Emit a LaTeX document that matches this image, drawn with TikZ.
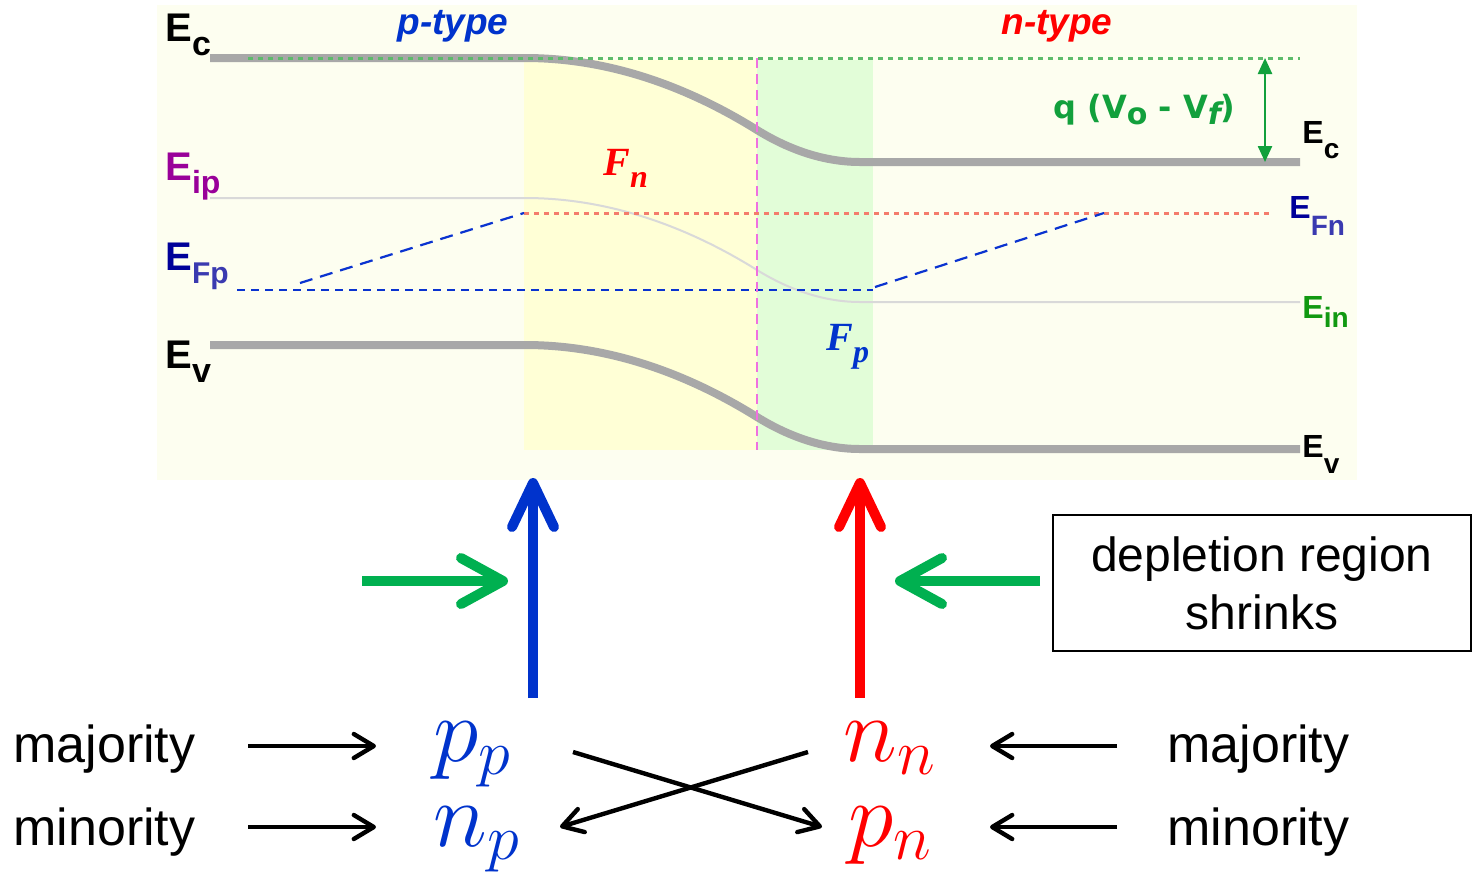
\documentclass[tikz,border=0pt]{standalone}
\usepackage{fix-cm}
\usepackage{fontspec}
\setmainfont{Liberation Sans}
\newfontfamily\serifbi{Liberation Serif}
\newfontfamily\qfont{DejaVu Sans}
\usetikzlibrary{arrows.meta}
\definecolor{panelbg}{HTML}{FDFEF0}
\definecolor{depy}{HTML}{FFFFD6}
\definecolor{depg}{HTML}{E2FDD8}
\definecolor{bandgray}{HTML}{A8A8A8}
\definecolor{eigray}{HTML}{D9D9D9}
\definecolor{dotgreen}{HTML}{5DBB6B}
\definecolor{dotred}{HTML}{F47C6C}
\definecolor{dblue}{HTML}{0A33D0}
\definecolor{pinkd}{HTML}{F070E0}
\definecolor{qgreen}{HTML}{12A03C}
\definecolor{bgreen}{HTML}{00B050}
\definecolor{ablue}{HTML}{0033CC}
\definecolor{ared}{HTML}{FF0000}
\definecolor{eipc}{HTML}{990099}
\definecolor{efc}{HTML}{000099}
\definecolor{efsub}{HTML}{3A3AB0}
\definecolor{einc}{HTML}{119911}
% #1 E size, #2 sub size, #3 lowering, #4 E colour, #5 sub colour, #6 sub text
\newcommand\ELab[6]{{\bfseries\fontsize{#1}{#1}\selectfont\textcolor{#4}{E}\raisebox{-#3}{\fontsize{#2}{#2}\selectfont\textcolor{#5}{#6}}}}
\newcommand\bandline{(210,58) -- (525,58) .. controls (602,58) and (680,82) .. (757,130) .. controls (791,151) and (826,162) .. (860,162) -- (1300,162)}
\begin{document}
\begin{tikzpicture}[x=0.5pt,y=-0.5pt,
  band/.style={draw=bandgray,line width=4pt},
  eiline/.style={draw=eigray,line width=1pt},
  lbl/.style={inner sep=0pt,anchor=base west},
  bigup/.style={line width=5pt,-{Straight Barb[length=22pt,width=21pt,round]}},
  greenar/.style={draw=bgreen,line width=5pt,-{Straight Barb[length=21pt,width=23pt,round]}},
  blackar/.style={line width=2.2pt,-{Straight Barb[length=10pt,width=12pt,round]}},
  mathlbl/.style={inner sep=0pt,anchor=base west,font=\fontsize{46}{46}\selectfont},
  word/.style={inner sep=0pt,anchor=base west,font=\fontsize{26}{26}\selectfont}]
\useasboundingbox (0,0) rectangle (1473,879);
% panel and depletion regions
\fill[panelbg] (157,5) rectangle (1357,480);
\fill[depy] (524,60) rectangle (757,450);
\fill[depg] (757,60) rectangle (873,450);
% intrinsic level
\begin{scope}[shift={(0,140)}]
\draw[eiline] \bandline;
\end{scope}
% bands
\draw[band] \bandline;
\begin{scope}[shift={(0,287)}]
\draw[band] \bandline;
\end{scope}
% reference lines
\draw[dotgreen,line width=1.5pt,dash pattern=on 2.5pt off 2.5pt] (248,58) -- (1300,58);
\draw[dotred,line width=1.5pt,dash pattern=on 2.5pt off 2.5pt] (524,213) -- (1270,213);
\draw[dblue,line width=1.1pt,dash pattern=on 4pt off 3pt] (237,290) -- (873,290);
\draw[dblue,line width=1.1pt,dash pattern=on 6.5pt off 4pt] (300,283) -- (524,213);
\draw[dblue,line width=1.1pt,dash pattern=on 6.5pt off 4pt] (875,287) -- (1104,213);
\draw[pinkd,line width=1.2pt,dash pattern=on 5pt off 3pt] (757,58) -- (757,450);
% q(Vo-Vf)
\coordinate (qtop) at (1265,58);
\coordinate (qbot) at (1265,162);
\draw[qgreen,line width=1.2pt,{Triangle[length=8pt,width=7pt]}-{Triangle[length=8pt,width=7pt]}] (qtop) -- (qbot);
\node[lbl,text=qgreen,font=\qfont\fontsize{16}{17}\selectfont\bfseries] (qv) at (1053,118) {q (V\raisebox{-3pt}{\fontsize{15}{15}\selectfont o} - V\raisebox{-3pt}{\fontsize{15}{15}\selectfont\itshape f})};
% labels
\node[lbl] (ecl) at (165,41) {\ELab{20}{17}{7pt}{black}{black}{c}};
\node[lbl] (eip) at (165,180) {\ELab{20}{16}{6.5pt}{eipc}{eipc}{ip}};
\node[lbl] (efp) at (165,270) {\ELab{20}{15}{6.5pt}{efc}{efsub}{Fp}};
\node[lbl] (evl) at (165,368) {\ELab{20}{17}{7pt}{black}{black}{v}};
\node[lbl] (ecr) at (1302,143) {\ELab{16}{14}{7.5pt}{black}{black}{c}};
\node[lbl] (efn) at (1289,218) {\ELab{16}{14}{8.5pt}{efc}{efsub}{Fn}};
\node[lbl] (ein) at (1302,318) {\ELab{16}{14}{4.5pt}{einc}{einc}{in}};
\node[lbl] (evr) at (1302,457) {\ELab{16}{14}{8pt}{black}{black}{v}};
\node[lbl,text=ablue,font=\fontsize{18.5}{19}\selectfont\bfseries\itshape] (ptype) at (397,34) {p-type};
\node[lbl,text=ared,font=\fontsize{18.5}{19}\selectfont\bfseries\itshape] (ntype) at (1001,34) {n-type};
\node[lbl,text=ared,font=\serifbi\fontsize{20}{20}\selectfont\bfseries\itshape] (fn) at (603,175) {F\raisebox{-6pt}{\fontsize{16}{16}\selectfont n}};
\node[lbl,text=ablue,font=\serifbi\fontsize{20}{20}\selectfont\bfseries\itshape] (fp) at (826,350) {F\raisebox{-6pt}{\fontsize{16}{16}\selectfont p}};
% bottom part
\node[word] (majl) at (13,762) {majority};
\node[word] (minl) at (13,845) {minority};
\node[word] (majr) at (1167,762) {majority};
\node[word] (minr) at (1167,845) {minority};
\node[mathlbl,text=ablue] (pp) at (433,761) {$p_p$};
\node[mathlbl,text=ablue] (np) at (433,846) {$n_p$};
\node[mathlbl,text=ared] (nn) at (843,761) {$n_n$};
\node[mathlbl,text=ared] (pn) at (848,846) {$p_n$};
\coordinate (ml1) at (248,746); \coordinate (ml2) at (376,746);
\coordinate (nl1) at (248,827); \coordinate (nl2) at (376,827);
\coordinate (mr1) at (1117,746); \coordinate (mr2) at (990,746);
\coordinate (nr1) at (1117,827); \coordinate (nr2) at (990,827);
\draw[blackar] (ml1) -- (ml2);
\draw[blackar] (nl1) -- (nl2);
\draw[blackar] (mr1) -- (mr2);
\draw[blackar] (nr1) -- (nr2);
\coordinate (x1) at (573,752); \coordinate (x2) at (822,827);
\coordinate (x3) at (808,752); \coordinate (x4) at (560,827);
\draw[blackar] (x1) -- (x2);
\draw[blackar] (x3) -- (x4);
% vertical arrows
\coordinate (bb) at (533,698); \coordinate (bt) at (533,478);
\coordinate (rb) at (860,698); \coordinate (rt) at (860,478);
\draw[bigup,ablue] (bb) -- (bt);
\draw[bigup,ared] (rb) -- (rt);
% green arrows
\coordinate (g1) at (362,581); \coordinate (g2) at (508,581);
\coordinate (g3) at (1040,581); \coordinate (g4) at (895,581);
\draw[greenar] (g1) -- (g2);
\draw[greenar] (g3) -- (g4);
% box
\node[draw,line width=1pt,minimum width=209pt,minimum height=68pt,align=center,inner sep=0pt,font=\fontsize{24}{29}\selectfont] (box) at (1262,583) {depletion region\\shrinks};
\end{tikzpicture}
\end{document}
